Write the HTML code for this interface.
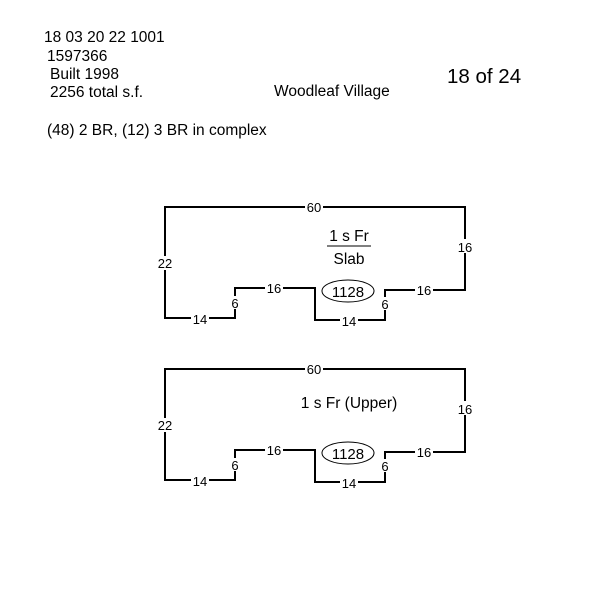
<!DOCTYPE html>
<html><head><style>
body{margin:0;background:#fff;}
svg text{font-family:"Liberation Sans",Arial,sans-serif;fill:#000;}
</style></head><body>
<svg width="600" height="600" viewBox="0 0 600 600" xmlns="http://www.w3.org/2000/svg">
<rect width="600" height="600" fill="#fff"/>
<g font-size="15.5">
<text x="44" y="42">18 03 20 22 1001</text>
<text x="47" y="61">1597366</text>
<text x="50" y="79">Built 1998</text>
<text x="50" y="97">2256 total s.f.</text>
<text x="274" y="96">Woodleaf Village</text>
<text x="47" y="135">(48) 2 BR, (12) 3 BR in complex</text>
</g>
<text x="447" y="83" font-size="20.5">18 of 24</text>

<g id="d1">
<path d="M165,207 H465 V290 H385 V320 H315 V288 H235 V318 H165 Z" fill="none" stroke="#000" stroke-width="2"/>
<g font-size="13" text-anchor="middle">
<rect x="305" y="200" width="18" height="13" fill="#fff"/><text x="314" y="212">60</text>
<rect x="456" y="239" width="18" height="14" fill="#fff"/><text x="465" y="252">16</text>
<rect x="156" y="256" width="18" height="14" fill="#fff"/><text x="165" y="268">22</text>
<rect x="265" y="281" width="18" height="13" fill="#fff"/><text x="274" y="293">16</text>
<rect x="415" y="283" width="18" height="13" fill="#fff"/><text x="424" y="295">16</text>
<rect x="229" y="296" width="12" height="13" fill="#fff"/><text x="235" y="308">6</text>
<rect x="379" y="297" width="12" height="13" fill="#fff"/><text x="385" y="309">6</text>
<rect x="191" y="312" width="18" height="13" fill="#fff"/><text x="200" y="324">14</text>
<rect x="340" y="314" width="18" height="13" fill="#fff"/><text x="349" y="326">14</text>
</g>
<ellipse cx="348" cy="291" rx="26" ry="11" fill="none" stroke="#000" stroke-width="1"/>
<text x="348" y="297" font-size="15" text-anchor="middle">1128</text>
</g>
<text x="349" y="241" font-size="15.5" text-anchor="middle">1 s Fr</text>
<line x1="327" y1="246" x2="371" y2="246" stroke="#000" stroke-width="1"/>
<text x="349" y="264" font-size="15.5" text-anchor="middle">Slab</text>

<use href="#d1" transform="translate(0,162)"/>
<text x="349" y="408" font-size="15.5" text-anchor="middle">1 s Fr  (Upper)</text>
</svg>
</body></html>
